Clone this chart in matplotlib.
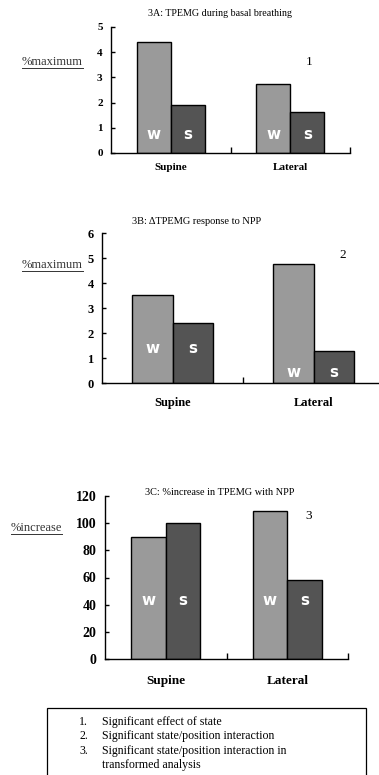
import matplotlib.pyplot as plt
from matplotlib.patches import Rectangle
from matplotlib.lines import Line2D
import numpy as np

positions = ["Supine", "Lateral"]
states = ["w", "s"]

basal_w = [4.4, 2.75]
basal_s = [1.9, 1.62]
npp_w = [3.52, 4.79]
npp_s = [2.42, 1.29]
incr_w = [89.5, 108.8]
incr_s = [100.0, 58.2]

notes = ["Significant effect of state",
         "Significant state/position interaction",
         "Significant state/position interaction in",
         "transformed analysis"]

c_w = "#9a9a9a"
c_s = "#545454"
serif = "Liberation Serif"

W, H = 379, 775
fig = plt.figure(figsize=(W / 100, H / 100), dpi=100)


def box(l, r, top, bot):
    return [l / W, 1 - bot / H, (r - l) / W, (bot - top) / H]


def panel(rect, wv, sv, ymax, ystep, lab_y, tick_fs, cat_fs, cat_off):
    ax = fig.add_axes(rect)
    x = np.arange(len(positions)) + 0.5
    bw = 0.285
    ax.bar(x - bw / 2, wv, bw, color=c_w, edgecolor="black", linewidth=1)
    ax.bar(x + bw / 2, sv, bw, color=c_s, edgecolor="black", linewidth=1)
    for i in range(len(positions)):
        ax.text(x[i] - bw / 2, lab_y[i], states[0], color="white", ha="center", va="center",
                fontsize=11, fontweight="bold", family="DejaVu Sans")
        ax.text(x[i] + bw / 2, lab_y[i], states[1], color="white", ha="center", va="center",
                fontsize=11, fontweight="bold", family="DejaVu Sans")
    ax.set_xlim(0, 2)
    ax.set_ylim(0, ymax)
    ax.set_yticks(np.arange(0, ymax + ystep / 2, ystep))
    ax.set_xticks([1, 2])
    ax.set_xticklabels([])
    ax.tick_params(axis="x", direction="in", length=4, width=1)
    ax.tick_params(axis="y", direction="in", length=3, width=1, pad=6)
    for t in ax.get_yticklabels():
        t.set_fontfamily(serif)
        t.set_fontweight("bold")
        t.set_fontsize(tick_fs)
    ax.spines["top"].set_visible(False)
    ax.spines["right"].set_visible(False)
    ax.spines["left"].set_linewidth(1)
    ax.spines["bottom"].set_linewidth(1)
    ax.patch.set_alpha(0)
    for i, p in enumerate(positions):
        ax.annotate(p, (x[i], 0), xycoords=("data", "axes fraction"),
                    xytext=(0, -cat_off * 0.72), textcoords="offset points",
                    ha="center", va="center", fontsize=cat_fs, fontweight="bold", family=serif)
    return ax


# 3A
axA = panel(box(111, 350, 27, 153), basal_w, basal_s, 5, 1, [0.75, 0.75], 8, 8, 15)
fig.text(220 / W, 1 - 14 / H, "3A: TPEMG during basal breathing", ha="center", va="center",
         fontsize=7.2, family=serif)
fig.text(309 / W, 1 - 62 / H, "1", ha="center", va="center", fontsize=9.5, family=serif)

# 3B
axB = panel(box(102, 384, 233.3, 383.3), npp_w, npp_s, 6, 1, [1.4, 0.45], 9, 9, 20)
fig.text(197 / W, 1 - 222 / H, "3B: \u0394TPEMG response to NPP", ha="center", va="center",
         fontsize=7.5, family=serif)
fig.text(343 / W, 1 - 255 / H, "2", ha="center", va="center", fontsize=9.5, family=serif)

# 3C
axC = panel(box(105, 348, 495.7, 659.3), incr_w, incr_s, 120, 20, [43, 43], 10, 9.5, 22)
fig.text(220 / W, 1 - 492 / H, "3C: %increase in TPEMG with NPP", ha="center", va="center",
         fontsize=7.4, family=serif)
fig.text(309 / W, 1 - 516 / H, "3", ha="center", va="center", fontsize=9.5, family=serif)

# underlined axis labels
for (xl, xr, yc, s) in [(22, 83, 62, "%maximum"), (22, 83, 265, "%maximum"),
                        (11, 62, 528, "%increase")]:
    fig.text((xl + xr) / 2 / W, 1 - yc / H, s, ha="center", va="center",
             fontsize=9, family=serif, color="#333333")
    fig.add_artist(Line2D([xl / W, xr / W], [1 - (yc + 6) / H] * 2, color="#333333", lw=0.7))

# notes box
fig.add_artist(Rectangle((47 / W, 1 - 790 / H), (366 - 47) / W, (790 - 708) / H,
                         transform=fig.transFigure, fill=False, edgecolor="black", lw=0.9))
ys = [721.7, 736, 750.7, 765]
nums = ["1.", "2.", "3.", ""]
for y, n, s in zip(ys, nums, notes):
    fig.text(88 / W, 1 - y / H, n, ha="right", va="center", fontsize=8.6, family=serif)
    fig.text(102 / W, 1 - y / H, s, ha="left", va="center", fontsize=8.6, family=serif)

fig.savefig("out.png", dpi=100)
